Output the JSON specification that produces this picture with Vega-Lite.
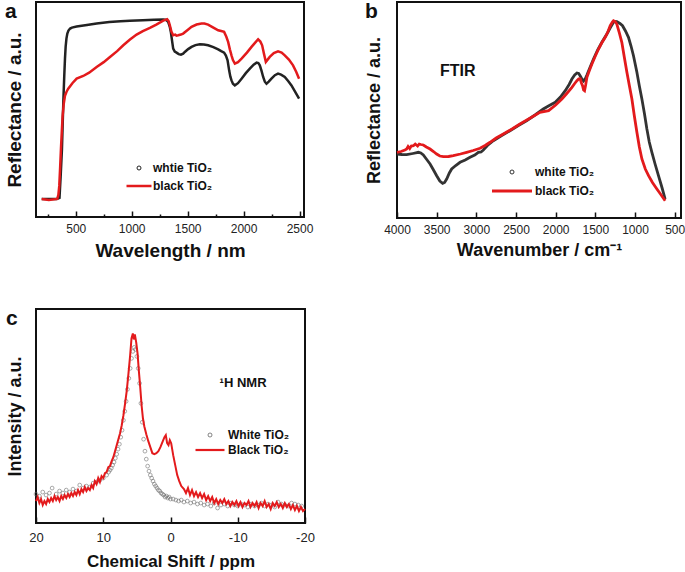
{
  "$schema": "https://vega.github.io/schema/vega-lite/v6.json",
  "background": "white",
  "padding": {"left": 4, "top": 0, "right": 0, "bottom": 0},
  "config": {
    "font": "Liberation Sans",
    "view": {"stroke": "#111", "strokeWidth": 2},
    "axis": {"grid": false, "domain": false, "labelFont": "Liberation Sans", "labelColor": "#222", "titleFont": "Liberation Sans", "titleFontWeight": "bold", "titleColor": "#111", "tickColor": "#111", "tickWidth": 1.5, "labelFlush": false, "labelOverlap": false},
    "title": {"font": "Liberation Sans", "fontWeight": "bold", "color": "#111"},
    "legend": {"padding": 0, "title": null, "labelFont": "Liberation Sans", "labelFontSize": 12, "labelFontWeight": "bold", "labelColor": "#111"}
  },
  "datasets": {
    "a": [
      {"x":196,"y":18,"s":"whtie TiO₂"},{"x":260,"y":18,"s":"whtie TiO₂"},{"x":330,"y":18,"s":"whtie TiO₂"},{"x":355,"y":19,"s":"whtie TiO₂"},{"x":365,"y":40,"s":"whtie TiO₂"},{"x":377,"y":68,"s":"whtie TiO₂"},{"x":384,"y":95,"s":"whtie TiO₂"},{"x":391,"y":121,"s":"whtie TiO₂"},{"x":398,"y":142,"s":"whtie TiO₂"},{"x":404,"y":158,"s":"whtie TiO₂"},{"x":410,"y":170,"s":"whtie TiO₂"},{"x":417,"y":178,"s":"whtie TiO₂"},{"x":425,"y":183,"s":"whtie TiO₂"},{"x":435,"y":186,"s":"whtie TiO₂"},{"x":450,"y":188,"s":"whtie TiO₂"},{"x":466,"y":189,"s":"whtie TiO₂"},{"x":508,"y":190,"s":"whtie TiO₂"},{"x":600,"y":191.5,"s":"whtie TiO₂"},{"x":687,"y":193,"s":"whtie TiO₂"},{"x":800,"y":194.5,"s":"whtie TiO₂"},{"x":900,"y":195.3,"s":"whtie TiO₂"},{"x":984,"y":195.7,"s":"whtie TiO₂"},{"x":1100,"y":196.3,"s":"whtie TiO₂"},{"x":1200,"y":196.8,"s":"whtie TiO₂"},{"x":1282,"y":197,"s":"whtie TiO₂"},{"x":1310,"y":196.5,"s":"whtie TiO₂"},{"x":1326,"y":194.7,"s":"whtie TiO₂"},{"x":1340,"y":190,"s":"whtie TiO₂"},{"x":1350,"y":184.7,"s":"whtie TiO₂"},{"x":1362,"y":175,"s":"whtie TiO₂"},{"x":1371,"y":168,"s":"whtie TiO₂"},{"x":1385,"y":165,"s":"whtie TiO₂"},{"x":1401,"y":164,"s":"whtie TiO₂"},{"x":1420,"y":162.5,"s":"whtie TiO₂"},{"x":1440,"y":162,"s":"whtie TiO₂"},{"x":1460,"y":163,"s":"whtie TiO₂"},{"x":1475,"y":164.7,"s":"whtie TiO₂"},{"x":1505,"y":167.5,"s":"whtie TiO₂"},{"x":1535,"y":169.7,"s":"whtie TiO₂"},{"x":1570,"y":171.5,"s":"whtie TiO₂"},{"x":1609,"y":172.3,"s":"whtie TiO₂"},{"x":1645,"y":172,"s":"whtie TiO₂"},{"x":1683,"y":171.3,"s":"whtie TiO₂"},{"x":1730,"y":169.5,"s":"whtie TiO₂"},{"x":1773,"y":167.3,"s":"whtie TiO₂"},{"x":1800,"y":165.5,"s":"whtie TiO₂"},{"x":1826,"y":164,"s":"whtie TiO₂"},{"x":1842,"y":161,"s":"whtie TiO₂"},{"x":1857,"y":156.3,"s":"whtie TiO₂"},{"x":1871,"y":146.3,"s":"whtie TiO₂"},{"x":1882,"y":140,"s":"whtie TiO₂"},{"x":1892,"y":136.3,"s":"whtie TiO₂"},{"x":1905,"y":133,"s":"whtie TiO₂"},{"x":1922,"y":131.3,"s":"whtie TiO₂"},{"x":1950,"y":133.5,"s":"whtie TiO₂"},{"x":1982,"y":138,"s":"whtie TiO₂"},{"x":2020,"y":143.5,"s":"whtie TiO₂"},{"x":2056,"y":148,"s":"whtie TiO₂"},{"x":2090,"y":152,"s":"whtie TiO₂"},{"x":2116,"y":154,"s":"whtie TiO₂"},{"x":2132,"y":153.5,"s":"whtie TiO₂"},{"x":2145,"y":151.3,"s":"whtie TiO₂"},{"x":2160,"y":146,"s":"whtie TiO₂"},{"x":2175,"y":139.7,"s":"whtie TiO₂"},{"x":2190,"y":135,"s":"whtie TiO₂"},{"x":2205,"y":133,"s":"whtie TiO₂"},{"x":2225,"y":135,"s":"whtie TiO₂"},{"x":2249,"y":138,"s":"whtie TiO₂"},{"x":2280,"y":141.5,"s":"whtie TiO₂"},{"x":2308,"y":143,"s":"whtie TiO₂"},{"x":2335,"y":142,"s":"whtie TiO₂"},{"x":2368,"y":139.7,"s":"whtie TiO₂"},{"x":2400,"y":135.5,"s":"whtie TiO₂"},{"x":2428,"y":131.3,"s":"whtie TiO₂"},{"x":2460,"y":125,"s":"whtie TiO₂"},{"x":2496,"y":118,"s":"whtie TiO₂"},
      {"x":196,"y":18,"s":"black TiO₂"},{"x":260,"y":17,"s":"black TiO₂"},{"x":335,"y":18,"s":"black TiO₂"},{"x":345,"y":22,"s":"black TiO₂"},{"x":353,"y":31,"s":"black TiO₂"},{"x":361,"y":50,"s":"black TiO₂"},{"x":368,"y":68,"s":"black TiO₂"},{"x":376,"y":86,"s":"black TiO₂"},{"x":383,"y":101,"s":"black TiO₂"},{"x":393,"y":113,"s":"black TiO₂"},{"x":404,"y":121,"s":"black TiO₂"},{"x":418,"y":125,"s":"black TiO₂"},{"x":433,"y":128,"s":"black TiO₂"},{"x":470,"y":133.5,"s":"black TiO₂"},{"x":508,"y":138,"s":"black TiO₂"},{"x":567,"y":140.7,"s":"black TiO₂"},{"x":620,"y":144,"s":"black TiO₂"},{"x":687,"y":149.7,"s":"black TiO₂"},{"x":750,"y":154.5,"s":"black TiO₂"},{"x":806,"y":159.7,"s":"black TiO₂"},{"x":870,"y":165.5,"s":"black TiO₂"},{"x":925,"y":171.3,"s":"black TiO₂"},{"x":985,"y":177,"s":"black TiO₂"},{"x":1044,"y":182,"s":"black TiO₂"},{"x":1100,"y":185.5,"s":"black TiO₂"},{"x":1163,"y":188.7,"s":"black TiO₂"},{"x":1220,"y":192,"s":"black TiO₂"},{"x":1282,"y":196,"s":"black TiO₂"},{"x":1317,"y":197.3,"s":"black TiO₂"},{"x":1330,"y":195.5,"s":"black TiO₂"},{"x":1341,"y":191.3,"s":"black TiO₂"},{"x":1355,"y":185,"s":"black TiO₂"},{"x":1371,"y":181.3,"s":"black TiO₂"},{"x":1390,"y":182,"s":"black TiO₂"},{"x":1400,"y":181,"s":"black TiO₂"},{"x":1416,"y":181.3,"s":"black TiO₂"},{"x":1440,"y":182,"s":"black TiO₂"},{"x":1460,"y":183,"s":"black TiO₂"},{"x":1500,"y":186.5,"s":"black TiO₂"},{"x":1535,"y":189.7,"s":"black TiO₂"},{"x":1580,"y":192,"s":"black TiO₂"},{"x":1624,"y":193,"s":"black TiO₂"},{"x":1650,"y":193,"s":"black TiO₂"},{"x":1683,"y":192,"s":"black TiO₂"},{"x":1730,"y":189,"s":"black TiO₂"},{"x":1773,"y":186.3,"s":"black TiO₂"},{"x":1800,"y":185.5,"s":"black TiO₂"},{"x":1826,"y":184.7,"s":"black TiO₂"},{"x":1845,"y":180,"s":"black TiO₂"},{"x":1862,"y":174.7,"s":"black TiO₂"},{"x":1878,"y":167,"s":"black TiO₂"},{"x":1892,"y":161.3,"s":"black TiO₂"},{"x":1905,"y":156.5,"s":"black TiO₂"},{"x":1922,"y":153,"s":"black TiO₂"},{"x":1950,"y":154.5,"s":"black TiO₂"},{"x":1982,"y":158,"s":"black TiO₂"},{"x":2030,"y":164,"s":"black TiO₂"},{"x":2071,"y":169.7,"s":"black TiO₂"},{"x":2100,"y":173.5,"s":"black TiO₂"},{"x":2130,"y":177.3,"s":"black TiO₂"},{"x":2150,"y":175,"s":"black TiO₂"},{"x":2166,"y":171.3,"s":"black TiO₂"},{"x":2182,"y":163,"s":"black TiO₂"},{"x":2199,"y":154.7,"s":"black TiO₂"},{"x":2215,"y":157,"s":"black TiO₂"},{"x":2234,"y":159.7,"s":"black TiO₂"},{"x":2270,"y":163.5,"s":"black TiO₂"},{"x":2308,"y":165.3,"s":"black TiO₂"},{"x":2340,"y":164,"s":"black TiO₂"},{"x":2368,"y":161.3,"s":"black TiO₂"},{"x":2405,"y":157,"s":"black TiO₂"},{"x":2442,"y":151.3,"s":"black TiO₂"},{"x":2470,"y":145,"s":"black TiO₂"},{"x":2496,"y":138,"s":"black TiO₂"}
    ],
    "b": [
      {"x":4000,"y":64,"s":"white TiO₂"},{"x":3940,"y":63.5,"s":"white TiO₂"},{"x":3878,"y":63.3,"s":"white TiO₂"},{"x":3800,"y":64.5,"s":"white TiO₂"},{"x":3730,"y":65.7,"s":"white TiO₂"},{"x":3700,"y":65,"s":"white TiO₂"},{"x":3668,"y":63,"s":"white TiO₂"},{"x":3630,"y":59,"s":"white TiO₂"},{"x":3583,"y":54,"s":"white TiO₂"},{"x":3540,"y":48,"s":"white TiO₂"},{"x":3500,"y":42.3,"s":"white TiO₂"},{"x":3460,"y":37,"s":"white TiO₂"},{"x":3424,"y":34.7,"s":"white TiO₂"},{"x":3400,"y":35.5,"s":"white TiO₂"},{"x":3374,"y":39,"s":"white TiO₂"},{"x":3340,"y":45,"s":"white TiO₂"},{"x":3311,"y":49,"s":"white TiO₂"},{"x":3260,"y":52.5,"s":"white TiO₂"},{"x":3205,"y":55.7,"s":"white TiO₂"},{"x":3140,"y":58,"s":"white TiO₂"},{"x":3079,"y":60.7,"s":"white TiO₂"},{"x":3020,"y":63,"s":"white TiO₂"},{"x":2975,"y":65.7,"s":"white TiO₂"},{"x":2940,"y":66,"s":"white TiO₂"},{"x":2912,"y":68,"s":"white TiO₂"},{"x":2860,"y":72.5,"s":"white TiO₂"},{"x":2786,"y":77.3,"s":"white TiO₂"},{"x":2680,"y":82.5,"s":"white TiO₂"},{"x":2576,"y":87.3,"s":"white TiO₂"},{"x":2470,"y":92.5,"s":"white TiO₂"},{"x":2367,"y":97.3,"s":"white TiO₂"},{"x":2260,"y":103,"s":"white TiO₂"},{"x":2156,"y":109,"s":"white TiO₂"},{"x":2080,"y":112.5,"s":"white TiO₂"},{"x":2005,"y":115.7,"s":"white TiO₂"},{"x":1940,"y":121,"s":"white TiO₂"},{"x":1879,"y":127.3,"s":"white TiO₂"},{"x":1830,"y":133.5,"s":"white TiO₂"},{"x":1795,"y":139,"s":"white TiO₂"},{"x":1760,"y":143,"s":"white TiO₂"},{"x":1732,"y":145,"s":"white TiO₂"},{"x":1710,"y":144.5,"s":"white TiO₂"},{"x":1690,"y":142,"s":"white TiO₂"},{"x":1670,"y":139,"s":"white TiO₂"},{"x":1649,"y":137,"s":"white TiO₂"},{"x":1628,"y":139,"s":"white TiO₂"},{"x":1606,"y":143,"s":"white TiO₂"},{"x":1565,"y":151,"s":"white TiO₂"},{"x":1523,"y":159,"s":"white TiO₂"},{"x":1470,"y":168,"s":"white TiO₂"},{"x":1417,"y":175.7,"s":"white TiO₂"},{"x":1385,"y":180,"s":"white TiO₂"},{"x":1354,"y":184,"s":"white TiO₂"},{"x":1310,"y":190.5,"s":"white TiO₂"},{"x":1271,"y":195.7,"s":"white TiO₂"},{"x":1250,"y":196.5,"s":"white TiO₂"},{"x":1229,"y":196.3,"s":"white TiO₂"},{"x":1190,"y":194.5,"s":"white TiO₂"},{"x":1157,"y":192.3,"s":"white TiO₂"},{"x":1120,"y":187,"s":"white TiO₂"},{"x":1082,"y":180.7,"s":"white TiO₂"},{"x":1050,"y":172,"s":"white TiO₂"},{"x":1019,"y":162.3,"s":"white TiO₂"},{"x":976,"y":145.7,"s":"white TiO₂"},{"x":945,"y":132,"s":"white TiO₂"},{"x":913,"y":119,"s":"white TiO₂"},{"x":880,"y":104,"s":"white TiO₂"},{"x":850,"y":89,"s":"white TiO₂"},{"x":820,"y":76,"s":"white TiO₂"},{"x":787,"y":65.7,"s":"white TiO₂"},{"x":745,"y":53.5,"s":"white TiO₂"},{"x":704,"y":42.3,"s":"white TiO₂"},{"x":660,"y":30.5,"s":"white TiO₂"},{"x":620,"y":19,"s":"white TiO₂"},
      {"x":4000,"y":65.7,"s":"black TiO₂ "},{"x":3950,"y":66.5,"s":"black TiO₂ "},{"x":3900,"y":68,"s":"black TiO₂ "},{"x":3878,"y":69,"s":"black TiO₂ "},{"x":3860,"y":71.5,"s":"black TiO₂ "},{"x":3840,"y":69.5,"s":"black TiO₂ "},{"x":3820,"y":72,"s":"black TiO₂ "},{"x":3793,"y":72.3,"s":"black TiO₂ "},{"x":3770,"y":74,"s":"black TiO₂ "},{"x":3740,"y":72,"s":"black TiO₂ "},{"x":3720,"y":74,"s":"black TiO₂ "},{"x":3700,"y":73.5,"s":"black TiO₂ "},{"x":3668,"y":73,"s":"black TiO₂ "},{"x":3630,"y":71,"s":"black TiO₂ "},{"x":3583,"y":69,"s":"black TiO₂ "},{"x":3540,"y":66.5,"s":"black TiO₂ "},{"x":3500,"y":64,"s":"black TiO₂ "},{"x":3460,"y":62,"s":"black TiO₂ "},{"x":3416,"y":61.3,"s":"black TiO₂ "},{"x":3350,"y":61.5,"s":"black TiO₂ "},{"x":3290,"y":62.3,"s":"black TiO₂ "},{"x":3200,"y":64,"s":"black TiO₂ "},{"x":3122,"y":65.7,"s":"black TiO₂ "},{"x":3040,"y":67.5,"s":"black TiO₂ "},{"x":2953,"y":69.7,"s":"black TiO₂ "},{"x":2890,"y":72.5,"s":"black TiO₂ "},{"x":2827,"y":75.7,"s":"black TiO₂ "},{"x":2750,"y":80,"s":"black TiO₂ "},{"x":2660,"y":84,"s":"black TiO₂ "},{"x":2550,"y":89,"s":"black TiO₂ "},{"x":2450,"y":94,"s":"black TiO₂ "},{"x":2330,"y":99.5,"s":"black TiO₂ "},{"x":2198,"y":105.7,"s":"black TiO₂ "},{"x":2089,"y":107.3,"s":"black TiO₂ "},{"x":2000,"y":113,"s":"black TiO₂ "},{"x":1921,"y":119,"s":"black TiO₂ "},{"x":1860,"y":124.5,"s":"black TiO₂ "},{"x":1795,"y":130.7,"s":"black TiO₂ "},{"x":1760,"y":134.5,"s":"black TiO₂ "},{"x":1732,"y":137.3,"s":"black TiO₂ "},{"x":1710,"y":139,"s":"black TiO₂ "},{"x":1690,"y":139,"s":"black TiO₂ "},{"x":1675,"y":135,"s":"black TiO₂ "},{"x":1661,"y":132.3,"s":"black TiO₂ "},{"x":1648,"y":128,"s":"black TiO₂ "},{"x":1636,"y":127.3,"s":"black TiO₂ "},{"x":1622,"y":133,"s":"black TiO₂ "},{"x":1606,"y":140.7,"s":"black TiO₂ "},{"x":1575,"y":147.5,"s":"black TiO₂ "},{"x":1543,"y":154,"s":"black TiO₂ "},{"x":1500,"y":162,"s":"black TiO₂ "},{"x":1460,"y":169,"s":"black TiO₂ "},{"x":1420,"y":175,"s":"black TiO₂ "},{"x":1375,"y":180.7,"s":"black TiO₂ "},{"x":1340,"y":186.5,"s":"black TiO₂ "},{"x":1312,"y":192.3,"s":"black TiO₂ "},{"x":1285,"y":196,"s":"black TiO₂ "},{"x":1271,"y":197.3,"s":"black TiO₂ "},{"x":1250,"y":196.5,"s":"black TiO₂ "},{"x":1229,"y":194,"s":"black TiO₂ "},{"x":1200,"y":186,"s":"black TiO₂ "},{"x":1166,"y":175.7,"s":"black TiO₂ "},{"x":1135,"y":161,"s":"black TiO₂ "},{"x":1102,"y":145.7,"s":"black TiO₂ "},{"x":1070,"y":132,"s":"black TiO₂ "},{"x":1039,"y":119,"s":"black TiO₂ "},{"x":1008,"y":102,"s":"black TiO₂ "},{"x":976,"y":85.7,"s":"black TiO₂ "},{"x":945,"y":71,"s":"black TiO₂ "},{"x":913,"y":59,"s":"black TiO₂ "},{"x":870,"y":49,"s":"black TiO₂ "},{"x":829,"y":42.3,"s":"black TiO₂ "},{"x":780,"y":35.5,"s":"black TiO₂ "},{"x":724,"y":29,"s":"black TiO₂ "},{"x":670,"y":23,"s":"black TiO₂ "},{"x":620,"y":17.3,"s":"black TiO₂ "}
    ],
    "c": [
      {"x":20,"y":29,"s":"White TiO₂"},{"x":19.5,"y":27,"s":"White TiO₂"},{"x":19,"y":31,"s":"White TiO₂"},{"x":18.5,"y":28,"s":"White TiO₂"},{"x":18,"y":30,"s":"White TiO₂"},{"x":17.6,"y":35,"s":"White TiO₂"},{"x":17,"y":29,"s":"White TiO₂"},{"x":16.5,"y":32,"s":"White TiO₂"},{"x":16,"y":30,"s":"White TiO₂"},{"x":15.5,"y":33,"s":"White TiO₂"},{"x":15,"y":31,"s":"White TiO₂"},{"x":14.5,"y":34,"s":"White TiO₂"},{"x":14,"y":32,"s":"White TiO₂"},{"x":13.5,"y":38,"s":"White TiO₂"},{"x":13,"y":35,"s":"White TiO₂"},{"x":12.5,"y":37,"s":"White TiO₂"},{"x":12,"y":36,"s":"White TiO₂"},{"x":11.5,"y":40,"s":"White TiO₂"},{"x":11,"y":41,"s":"White TiO₂"},{"x":10.5,"y":43,"s":"White TiO₂"},{"x":10,"y":45,"s":"White TiO₂"},{"x":9.5,"y":48,"s":"White TiO₂"},{"x":9.2,"y":51,"s":"White TiO₂"},{"x":9,"y":53,"s":"White TiO₂"},{"x":8.8,"y":55,"s":"White TiO₂"},{"x":8.6,"y":58,"s":"White TiO₂"},{"x":8.4,"y":61,"s":"White TiO₂"},{"x":8.2,"y":65,"s":"White TiO₂"},{"x":8,"y":69,"s":"White TiO₂"},{"x":7.8,"y":74,"s":"White TiO₂"},{"x":7.6,"y":79,"s":"White TiO₂"},{"x":7.4,"y":86,"s":"White TiO₂"},{"x":7.2,"y":93,"s":"White TiO₂"},{"x":7,"y":103,"s":"White TiO₂"},{"x":6.8,"y":112,"s":"White TiO₂"},{"x":6.6,"y":122,"s":"White TiO₂"},{"x":6.4,"y":134,"s":"White TiO₂"},{"x":6.2,"y":145,"s":"White TiO₂"},{"x":6,"y":155,"s":"White TiO₂"},{"x":5.8,"y":165,"s":"White TiO₂"},{"x":5.6,"y":172,"s":"White TiO₂"},{"x":5.4,"y":176,"s":"White TiO₂"},{"x":5.2,"y":174,"s":"White TiO₂"},{"x":5,"y":167,"s":"White TiO₂"},{"x":4.8,"y":155,"s":"White TiO₂"},{"x":4.6,"y":140,"s":"White TiO₂"},{"x":4.4,"y":120,"s":"White TiO₂"},{"x":4.2,"y":101,"s":"White TiO₂"},{"x":4,"y":84,"s":"White TiO₂"},{"x":3.8,"y":72,"s":"White TiO₂"},{"x":3.6,"y":64,"s":"White TiO₂"},{"x":3.4,"y":57,"s":"White TiO₂"},{"x":3.2,"y":52,"s":"White TiO₂"},{"x":3,"y":48,"s":"White TiO₂"},{"x":2.8,"y":45,"s":"White TiO₂"},{"x":2.6,"y":42,"s":"White TiO₂"},{"x":2.4,"y":39,"s":"White TiO₂"},{"x":2.2,"y":37,"s":"White TiO₂"},{"x":2,"y":35,"s":"White TiO₂"},{"x":1.8,"y":33,"s":"White TiO₂"},{"x":1.6,"y":32,"s":"White TiO₂"},{"x":1.4,"y":30,"s":"White TiO₂"},{"x":1.2,"y":29,"s":"White TiO₂"},{"x":1,"y":28,"s":"White TiO₂"},{"x":0.8,"y":26,"s":"White TiO₂"},{"x":0.6,"y":27,"s":"White TiO₂"},{"x":0.4,"y":25,"s":"White TiO₂"},{"x":0.2,"y":26,"s":"White TiO₂"},{"x":0,"y":24,"s":"White TiO₂"},{"x":-0.4,"y":24,"s":"White TiO₂"},{"x":-0.8,"y":23,"s":"White TiO₂"},{"x":-1.2,"y":22,"s":"White TiO₂"},{"x":-1.6,"y":23,"s":"White TiO₂"},{"x":-2,"y":21,"s":"White TiO₂"},{"x":-2.5,"y":22,"s":"White TiO₂"},{"x":-3,"y":20,"s":"White TiO₂"},{"x":-3.5,"y":21,"s":"White TiO₂"},{"x":-4,"y":19,"s":"White TiO₂"},{"x":-4.5,"y":20,"s":"White TiO₂"},{"x":-5,"y":18,"s":"White TiO₂"},{"x":-5.5,"y":19,"s":"White TiO₂"},{"x":-6,"y":17,"s":"White TiO₂"},{"x":-6.5,"y":20,"s":"White TiO₂"},{"x":-7,"y":15,"s":"White TiO₂"},{"x":-7.5,"y":18,"s":"White TiO₂"},{"x":-8,"y":19,"s":"White TiO₂"},{"x":-8.5,"y":17,"s":"White TiO₂"},{"x":-9,"y":20,"s":"White TiO₂"},{"x":-9.5,"y":18,"s":"White TiO₂"},{"x":-10,"y":17,"s":"White TiO₂"},{"x":-10.5,"y":19,"s":"White TiO₂"},{"x":-11,"y":18,"s":"White TiO₂"},{"x":-11.5,"y":16,"s":"White TiO₂"},{"x":-12,"y":19,"s":"White TiO₂"},{"x":-12.5,"y":17,"s":"White TiO₂"},{"x":-13,"y":18,"s":"White TiO₂"},{"x":-13.5,"y":20,"s":"White TiO₂"},{"x":-14,"y":17,"s":"White TiO₂"},{"x":-14.5,"y":19,"s":"White TiO₂"},{"x":-15,"y":18,"s":"White TiO₂"},{"x":-15.5,"y":16,"s":"White TiO₂"},{"x":-16,"y":21,"s":"White TiO₂"},{"x":-16.5,"y":19,"s":"White TiO₂"},{"x":-17,"y":18,"s":"White TiO₂"},{"x":-17.5,"y":17,"s":"White TiO₂"},{"x":-18,"y":20,"s":"White TiO₂"},{"x":-18.5,"y":19,"s":"White TiO₂"},{"x":-19,"y":18,"s":"White TiO₂"},{"x":-19.5,"y":17,"s":"White TiO₂"},
      {"x":20,"y":22,"s":"Black TiO₂"},{"x":19.75,"y":26,"s":"Black TiO₂"},{"x":19.5,"y":20,"s":"Black TiO₂"},{"x":19.25,"y":24,"s":"Black TiO₂"},{"x":19,"y":18,"s":"Black TiO₂"},{"x":18.75,"y":22,"s":"Black TiO₂"},{"x":18.5,"y":19,"s":"Black TiO₂"},{"x":18.25,"y":24,"s":"Black TiO₂"},{"x":18,"y":21,"s":"Black TiO₂"},{"x":17.75,"y":25,"s":"Black TiO₂"},{"x":17.5,"y":22,"s":"Black TiO₂"},{"x":17.25,"y":27,"s":"Black TiO₂"},{"x":17,"y":23,"s":"Black TiO₂"},{"x":16.75,"y":26,"s":"Black TiO₂"},{"x":16.5,"y":22,"s":"Black TiO₂"},{"x":16.25,"y":27,"s":"Black TiO₂"},{"x":16,"y":24,"s":"Black TiO₂"},{"x":15.75,"y":28,"s":"Black TiO₂"},{"x":15.5,"y":25,"s":"Black TiO₂"},{"x":15.25,"y":29,"s":"Black TiO₂"},{"x":15,"y":26,"s":"Black TiO₂"},{"x":14.75,"y":30,"s":"Black TiO₂"},{"x":14.5,"y":27,"s":"Black TiO₂"},{"x":14.25,"y":31,"s":"Black TiO₂"},{"x":14,"y":28,"s":"Black TiO₂"},{"x":13.75,"y":33,"s":"Black TiO₂"},{"x":13.5,"y":29,"s":"Black TiO₂"},{"x":13.25,"y":34,"s":"Black TiO₂"},{"x":13,"y":31,"s":"Black TiO₂"},{"x":12.75,"y":36,"s":"Black TiO₂"},{"x":12.5,"y":32,"s":"Black TiO₂"},{"x":12.25,"y":35,"s":"Black TiO₂"},{"x":12,"y":33,"s":"Black TiO₂"},{"x":11.75,"y":38,"s":"Black TiO₂"},{"x":11.5,"y":35,"s":"Black TiO₂"},{"x":11.25,"y":42,"s":"Black TiO₂"},{"x":11,"y":39,"s":"Black TiO₂"},{"x":10.75,"y":45,"s":"Black TiO₂"},{"x":10.5,"y":41,"s":"Black TiO₂"},{"x":10.25,"y":47,"s":"Black TiO₂"},{"x":10,"y":45,"s":"Black TiO₂"},{"x":9.75,"y":50,"s":"Black TiO₂"},{"x":9.5,"y":51,"s":"Black TiO₂"},{"x":9.25,"y":56,"s":"Black TiO₂"},{"x":9,"y":57,"s":"Black TiO₂"},{"x":8.75,"y":62,"s":"Black TiO₂"},{"x":8.5,"y":66,"s":"Black TiO₂"},{"x":8.25,"y":72,"s":"Black TiO₂"},{"x":8,"y":78,"s":"Black TiO₂"},{"x":7.75,"y":84,"s":"Black TiO₂"},{"x":7.5,"y":90,"s":"Black TiO₂"},{"x":7.25,"y":98,"s":"Black TiO₂"},{"x":7,"y":108,"s":"Black TiO₂"},{"x":6.75,"y":120,"s":"Black TiO₂"},{"x":6.5,"y":133,"s":"Black TiO₂"},{"x":6.25,"y":150,"s":"Black TiO₂"},{"x":6,"y":168,"s":"Black TiO₂"},{"x":5.8,"y":185,"s":"Black TiO₂"},{"x":5.6,"y":190,"s":"Black TiO₂"},{"x":5.45,"y":184,"s":"Black TiO₂"},{"x":5.3,"y":189,"s":"Black TiO₂"},{"x":5.1,"y":181,"s":"Black TiO₂"},{"x":4.9,"y":170,"s":"Black TiO₂"},{"x":4.7,"y":152,"s":"Black TiO₂"},{"x":4.5,"y":136,"s":"Black TiO₂"},{"x":4.3,"y":118,"s":"Black TiO₂"},{"x":4.1,"y":105,"s":"Black TiO₂"},{"x":3.9,"y":97,"s":"Black TiO₂"},{"x":3.6,"y":89,"s":"Black TiO₂"},{"x":3.3,"y":82,"s":"Black TiO₂"},{"x":3,"y":76,"s":"Black TiO₂"},{"x":2.7,"y":70,"s":"Black TiO₂"},{"x":2.4,"y":69,"s":"Black TiO₂"},{"x":2.1,"y":70,"s":"Black TiO₂"},{"x":1.8,"y":72,"s":"Black TiO₂"},{"x":1.5,"y":76,"s":"Black TiO₂"},{"x":1.2,"y":81,"s":"Black TiO₂"},{"x":0.9,"y":86,"s":"Black TiO₂"},{"x":0.7,"y":88,"s":"Black TiO₂"},{"x":0.5,"y":80,"s":"Black TiO₂"},{"x":0.3,"y":78,"s":"Black TiO₂"},{"x":0.1,"y":83,"s":"Black TiO₂"},{"x":-0.1,"y":80,"s":"Black TiO₂"},{"x":-0.4,"y":68,"s":"Black TiO₂"},{"x":-0.7,"y":58,"s":"Black TiO₂"},{"x":-1,"y":48,"s":"Black TiO₂"},{"x":-1.3,"y":42,"s":"Black TiO₂"},{"x":-1.6,"y":37,"s":"Black TiO₂"},{"x":-2,"y":34,"s":"Black TiO₂"},{"x":-2.3,"y":30,"s":"Black TiO₂"},{"x":-2.6,"y":35,"s":"Black TiO₂"},{"x":-2.9,"y":28,"s":"Black TiO₂"},{"x":-3.2,"y":33,"s":"Black TiO₂"},{"x":-3.5,"y":27,"s":"Black TiO₂"},{"x":-3.8,"y":31,"s":"Black TiO₂"},{"x":-4.1,"y":26,"s":"Black TiO₂"},{"x":-4.4,"y":30,"s":"Black TiO₂"},{"x":-4.7,"y":25,"s":"Black TiO₂"},{"x":-5,"y":29,"s":"Black TiO₂"},{"x":-5.3,"y":23,"s":"Black TiO₂"},{"x":-5.6,"y":27,"s":"Black TiO₂"},{"x":-5.9,"y":22,"s":"Black TiO₂"},{"x":-6.2,"y":26,"s":"Black TiO₂"},{"x":-6.5,"y":20,"s":"Black TiO₂"},{"x":-6.8,"y":24,"s":"Black TiO₂"},{"x":-7.1,"y":19,"s":"Black TiO₂"},{"x":-7.4,"y":23,"s":"Black TiO₂"},{"x":-7.7,"y":20,"s":"Black TiO₂"},{"x":-8,"y":24,"s":"Black TiO₂"},{"x":-8.3,"y":19,"s":"Black TiO₂"},{"x":-8.6,"y":22,"s":"Black TiO₂"},{"x":-8.9,"y":17,"s":"Black TiO₂"},{"x":-9.2,"y":21,"s":"Black TiO₂"},{"x":-9.5,"y":18,"s":"Black TiO₂"},{"x":-9.8,"y":22,"s":"Black TiO₂"},{"x":-10.1,"y":17,"s":"Black TiO₂"},{"x":-10.4,"y":21,"s":"Black TiO₂"},{"x":-10.7,"y":16,"s":"Black TiO₂"},{"x":-11,"y":20,"s":"Black TiO₂"},{"x":-11.3,"y":18,"s":"Black TiO₂"},{"x":-11.6,"y":22,"s":"Black TiO₂"},{"x":-11.9,"y":16,"s":"Black TiO₂"},{"x":-12.2,"y":20,"s":"Black TiO₂"},{"x":-12.5,"y":17,"s":"Black TiO₂"},{"x":-12.8,"y":21,"s":"Black TiO₂"},{"x":-13.1,"y":15,"s":"Black TiO₂"},{"x":-13.4,"y":20,"s":"Black TiO₂"},{"x":-13.7,"y":17,"s":"Black TiO₂"},{"x":-14,"y":22,"s":"Black TiO₂"},{"x":-14.3,"y":16,"s":"Black TiO₂"},{"x":-14.6,"y":19,"s":"Black TiO₂"},{"x":-14.9,"y":14,"s":"Black TiO₂"},{"x":-15.2,"y":20,"s":"Black TiO₂"},{"x":-15.5,"y":17,"s":"Black TiO₂"},{"x":-15.8,"y":21,"s":"Black TiO₂"},{"x":-16.1,"y":16,"s":"Black TiO₂"},{"x":-16.4,"y":19,"s":"Black TiO₂"},{"x":-16.7,"y":15,"s":"Black TiO₂"},{"x":-17,"y":20,"s":"Black TiO₂"},{"x":-17.3,"y":16,"s":"Black TiO₂"},{"x":-17.6,"y":19,"s":"Black TiO₂"},{"x":-17.9,"y":14,"s":"Black TiO₂"},{"x":-18.2,"y":18,"s":"Black TiO₂"},{"x":-18.5,"y":13,"s":"Black TiO₂"},{"x":-18.8,"y":17,"s":"Black TiO₂"},{"x":-19.1,"y":12,"s":"Black TiO₂"},{"x":-19.4,"y":16,"s":"Black TiO₂"},{"x":-19.7,"y":12,"s":"Black TiO₂"},{"x":-20,"y":14,"s":"Black TiO₂"}
    ]
  },
  "vconcat": [
    {
      "hconcat": [
        {
          "width": 268, "height": 215,
          "title": {"text": "a", "anchor": "start", "frame": "bounds", "offset": -20, "fontSize": 21},
          "data": {"name": "a"},
          "mark": {"type": "line", "strokeWidth": 2.5},
          "encoding": {
            "x": {"field": "x", "type": "quantitative", "scale": {"domain": [145, 2540], "nice": false, "zero": false},
              "axis": {"title": "Wavelength / nm", "values": [250,500,750,1000,1250,1500,1750,2000,2250,2500], "labelExpr": "datum.value % 500 === 0 ? '' + datum.value : ''", "tickSize": {"condition": {"test": "datum.value % 500 === 0", "value": -6}, "value": -3}, "labelPadding": 12, "labelFontSize": 12, "titleFontSize": 19, "titlePadding": 4}},
            "y": {"field": "y", "type": "quantitative", "scale": {"domain": [0, 214.5], "nice": false, "zero": false},
              "axis": {"title": "Reflectance / a.u.", "labels": false, "ticks": false, "titleFontSize": 19, "titlePadding": 12}},
            "color": {"field": "s", "type": "nominal", "sort": null,
              "scale": {"domain": ["whtie TiO₂", "black TiO₂"], "range": ["#222222", "#e31a1c"]},
              "legend": {"orient": "none", "legendX": 97, "legendY": 160, "symbolSize": 196, "labelOffset": 8, "rowPadding": 6,
                "encode": {"symbols": {"update": {"shape": {"signal": "datum.index === 0 ? 'circle' : 'stroke'"}, "size": {"signal": "datum.index === 0 ? 16 : 625"}, "strokeWidth": {"signal": "datum.index === 0 ? 1 : 2.5"}, "fill": {"value": "transparent"}}}}}}
          }
        },
        {
          "width": 284, "height": 216,
          "title": {"text": "b", "anchor": "start", "frame": "bounds", "offset": -20, "fontSize": 21},
          "layer": [
            {
              "data": {"name": "b"},
              "mark": {"type": "line", "strokeWidth": 2.8},
              "encoding": {
                "x": {"field": "x", "type": "quantitative", "scale": {"domain": [420, 4000], "reverse": true, "nice": false, "zero": false},
                  "axis": {"title": "Wavenumber / cm⁻¹", "values": [500,750,1000,1250,1500,1750,2000,2250,2500,2750,3000,3250,3500,3750,4000], "labelExpr": "datum.value % 500 === 0 ? '' + datum.value : ''", "tickSize": {"condition": {"test": "datum.value % 500 === 0", "value": -6}, "value": -3}, "labelPadding": 12, "labelFontSize": 12, "titleFontSize": 18, "titlePadding": 6}},
                "y": {"field": "y", "type": "quantitative", "scale": {"domain": [0, 216], "nice": false, "zero": false},
                  "axis": {"title": "Reflectance / a.u.", "labels": false, "ticks": false, "titleFontSize": 18, "titlePadding": 14}},
                "color": {"field": "s", "type": "nominal", "sort": null,
                  "scale": {"domain": ["white TiO₂", "black TiO₂ "], "range": ["#333333", "#e31a1c"]},
                  "legend": {"orient": "none", "legendX": 109, "legendY": 164, "symbolSize": 196, "labelOffset": 17, "rowPadding": 7,
                    "encode": {"symbols": {"update": {"shape": {"signal": "datum.index === 0 ? 'circle' : 'stroke'"}, "size": {"signal": "datum.index === 0 ? 16 : 1600"}, "strokeWidth": {"signal": "datum.index === 0 ? 1 : 2.8"}, "fill": {"value": "transparent"}}}}}}
              }
            },
            {
              "data": {"values": [{}]},
              "mark": {"type": "text", "align": "left", "baseline": "middle", "fontSize": 16, "fontWeight": "bold", "color": "#111"},
              "encoding": {"x": {"datum": 3458, "type": "quantitative"}, "y": {"datum": 147.5, "type": "quantitative"}, "text": {"value": "FTIR"}}
            }
          ]
        }
      ],
      "spacing": 50,
      "resolve": {"scale": {"color": "independent"}, "legend": {"color": "independent"}}
    },
    {
      "width": 269, "height": 214,
      "title": {"text": "c", "anchor": "start", "frame": "bounds", "offset": -20, "fontSize": 21},
      "layer": [
        {
          "data": {"name": "c"},
          "transform": [{"filter": "datum.s === 'White TiO₂'"}],
          "mark": {"type": "point", "filled": false, "size": 14, "strokeWidth": 0.8},
          "encoding": {
            "x": {"field": "x", "type": "quantitative"},
            "y": {"field": "y", "type": "quantitative"},
            "color": {"field": "s", "type": "nominal"}
          }
        },
        {
          "data": {"name": "c"},
          "transform": [{"filter": "datum.s === 'Black TiO₂'"}],
          "mark": {"type": "line", "strokeWidth": 2},
          "encoding": {
            "x": {"field": "x", "type": "quantitative", "scale": {"domain": [-20, 20], "reverse": true, "nice": false, "zero": false},
              "axis": {"title": "Chemical Shift / ppm", "values": [-20,-15,-10,-5,0,5,10,15,20], "labelExpr": "datum.value % 10 === 0 ? '' + datum.value : ''", "tickSize": {"condition": {"test": "datum.value % 10 === 0", "value": -6}, "value": -3}, "labelPadding": 14, "labelFontSize": 13, "titleFontSize": 17, "titlePadding": 9}},
            "y": {"field": "y", "type": "quantitative", "scale": {"domain": [0, 214.5], "nice": false, "zero": false},
              "axis": {"title": "Intensity / a.u.", "labels": false, "ticks": false, "titleFontSize": 18, "titlePadding": 12}},
            "color": {"field": "s", "type": "nominal", "sort": null,
              "scale": {"domain": ["White TiO₂", "Black TiO₂"], "range": ["#666666", "#e31a1c"]},
              "legend": {"orient": "none", "legendX": 168, "legendY": 120, "symbolSize": 144, "labelOffset": 12, "rowPadding": 3,
                "encode": {"symbols": {"update": {"shape": {"signal": "datum.index === 0 ? 'circle' : 'stroke'"}, "size": {"signal": "datum.index === 0 ? 16 : 841"}, "strokeWidth": {"signal": "datum.index === 0 ? 0.8 : 2.2"}, "fill": {"value": "transparent"}}}}}}
          }
        },
        {
          "data": {"values": [{}]},
          "mark": {"type": "text", "align": "left", "baseline": "middle", "fontSize": 13, "fontWeight": "bold", "color": "#111"},
          "encoding": {"x": {"datum": -7.3, "type": "quantitative"}, "y": {"datum": 140, "type": "quantitative"}, "text": {"value": "¹H NMR"}}
        }
      ]
    }
  ],
  "spacing": 46,
  "resolve": {"scale": {"color": "independent"}, "legend": {"color": "independent"}}
}
